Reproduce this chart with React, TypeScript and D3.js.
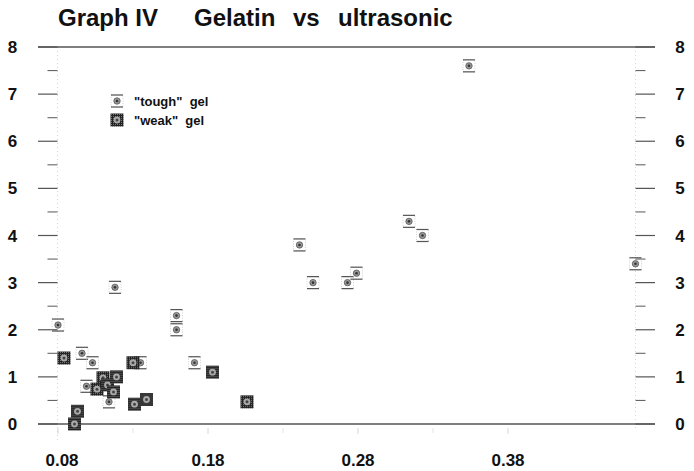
import React from "react";
import * as d3 from "d3";

const TITLE_WORDS = ["Graph IV", "Gelatin", "vs", "ultrasonic"];
const yTicks = [0, 1, 2, 3, 4, 5, 6, 7, 8];
const yMinor = [0.5, 1.5, 2.5, 3.5, 4.5, 5.5, 6.5, 7.5];
const xTicks = [0.08, 0.18, 0.28, 0.38];
const xTickLabels = ["0.08", "0.18", "0.28", "0.38"];
const xMinor = [0.13, 0.23, 0.33];

const toughX = [0.080, 0.096, 0.103, 0.099, 0.114, 0.118, 0.135, 0.159, 0.159, 0.171, 0.241, 0.250, 0.273, 0.279, 0.314, 0.323, 0.354, 0.465];
const toughY = [2.1, 1.5, 1.3, 0.8, 0.47, 2.9, 1.3, 2.3, 2.0, 1.3, 3.8, 3.0, 3.0, 3.2, 4.3, 4.0, 7.6, 3.4];

const weakX = [0.084, 0.091, 0.093, 0.106, 0.110, 0.113, 0.117, 0.119, 0.130, 0.131, 0.139, 0.183, 0.206];
const weakY = [1.4, 0.0, 0.27, 0.74, 0.98, 0.83, 0.68, 1.0, 1.3, 0.42, 0.52, 1.1, 0.47];

const legendLabels = ['"tough"  gel', '"weak"  gel'];

const W = 694;
const H = 471;
const FONT = "'Liberation Sans', Arial, Helvetica, sans-serif";

function Tough({ x, y }: { x: number; y: number }) {
  return (
    <g transform={`translate(${x},${y})`}>
      <rect x={-6} y={-6} width={12} height={12} fill="none" stroke="#bbb" strokeWidth={0.7} strokeDasharray="1 1.5" />
      <line x1={-6} x2={6} y1={-6} y2={-6} stroke="#555" strokeWidth={1.2} />
      <line x1={-6} x2={6} y1={6} y2={6} stroke="#555" strokeWidth={1.2} />
      <circle r={3.2} fill="#999" stroke="#555" strokeWidth={0.8} />
      <circle r={1.3} fill="#333" />
    </g>
  );
}

function Weak({ x, y }: { x: number; y: number }) {
  return (
    <g transform={`translate(${x},${y})`}>
      <rect x={-6.5} y={-6.5} width={13} height={13} fill="url(#weakPat)" />
      <circle r={3.4} fill="#aaa" />
      <circle r={1.5} fill="#444" />
    </g>
  );
}

export default function App() {
  const x = d3.scaleLinear().domain([0.08, 0.38]).range([58, 508]);
  const y = d3.scaleLinear().domain([0, 8]).range([424, 47]);

  const leftAxisX = 57.5;
  const rightAxisX = 635.5;
  const lineX0 = 38;
  const lineX1 = 655;
  const titleX = [58, 194, 293, 338];

  return (
    <svg width={W} height={H} style={{ position: "absolute", left: 0, top: 0, background: "#fff" }} fontFamily={FONT}>
      <defs>
        <pattern id="weakPat" width="2" height="2" patternUnits="userSpaceOnUse">
          <rect width="2" height="2" fill="#222" />
          <rect width="1" height="1" fill="#777" />
        </pattern>
      </defs>
      <rect width={W} height={H} fill="#fff" />

      {/* title */}
      <text y={26} fontSize={24} fontWeight="bold" fill="#111">
        {TITLE_WORDS.map((w, i) => (
          <tspan key={w} x={titleX[i]}>{w}</tspan>
        ))}
      </text>

      {/* faint vertical axes */}
      <line x1={leftAxisX} x2={leftAxisX} y1={y(8)} y2={440} stroke="#ccc" strokeWidth={0.8} strokeDasharray="1 3" />
      <line x1={rightAxisX} x2={rightAxisX} y1={y(8)} y2={430} stroke="#ccc" strokeWidth={0.8} strokeDasharray="1 3" />

      {/* top & bottom lines */}
      <line x1={lineX0} x2={lineX1} y1={y(8)} y2={y(8)} stroke="#555" strokeWidth={1.4} />
      <line x1={lineX0} x2={lineX1} y1={y(0)} y2={y(0)} stroke="#555" strokeWidth={1.4} />

      {/* y ticks */}
      {yTicks.map((t) => (
        <g key={"yt" + t}>
          <line x1={lineX0} x2={leftAxisX} y1={y(t)} y2={y(t)} stroke="#555" strokeWidth={1.2} />
          <line x1={rightAxisX} x2={lineX1} y1={y(t)} y2={y(t)} stroke="#555" strokeWidth={1.2} />
          <text x={12.5} y={y(t)} dy="0.36em" textAnchor="middle" fontSize={17} fontWeight="bold" fill="#111">{t}</text>
          <text x={680} y={y(t)} dy="0.36em" textAnchor="middle" fontSize={17} fontWeight="bold" fill="#111">{t}</text>
        </g>
      ))}
      {yMinor.map((t) => (
        <g key={"ym" + t}>
          <line x1={leftAxisX - 10} x2={leftAxisX} y1={y(t)} y2={y(t)} stroke="#666" strokeWidth={1.1} />
          <line x1={rightAxisX} x2={rightAxisX + 10} y1={y(t)} y2={y(t)} stroke="#666" strokeWidth={1.1} />
        </g>
      ))}

      {/* x ticks */}
      {xTicks.map((t, i) => (
        <g key={"xt" + t}>
          <line x1={x(t)} x2={x(t)} y1={y(0) + 4} y2={y(0) + 10} stroke="#ccc" strokeWidth={0.8} />
          <text x={x(t) + (i === 0 ? 4 : 0)} y={466} textAnchor="middle" fontSize={17} fontWeight="bold" fill="#111">
            {xTickLabels[i]}
          </text>
        </g>
      ))}
      {xMinor.map((t) => (
        <line key={"xm" + t} x1={x(t)} x2={x(t)} y1={y(0) + 4} y2={y(0) + 9} stroke="#ddd" strokeWidth={0.8} />
      ))}

      {/* points */}
      {toughX.map((v, i) => (
        <Tough key={"t" + i} x={x(v)} y={y(toughY[i])} />
      ))}
      {weakX.map((v, i) => (
        <Weak key={"w" + i} x={x(v)} y={y(weakY[i])} />
      ))}

      {/* legend */}
      <Tough x={117} y={101} />
      <text x={134} y={101} dy="0.35em" fontSize={13} fontWeight="bold" fill="#111" style={{ whiteSpace: "pre" }}>{legendLabels[0]}</text>
      <Weak x={117} y={120} />
      <text x={134} y={120} dy="0.35em" fontSize={13} fontWeight="bold" fill="#111" style={{ whiteSpace: "pre" }}>{legendLabels[1]}</text>
    </svg>
  );
}
